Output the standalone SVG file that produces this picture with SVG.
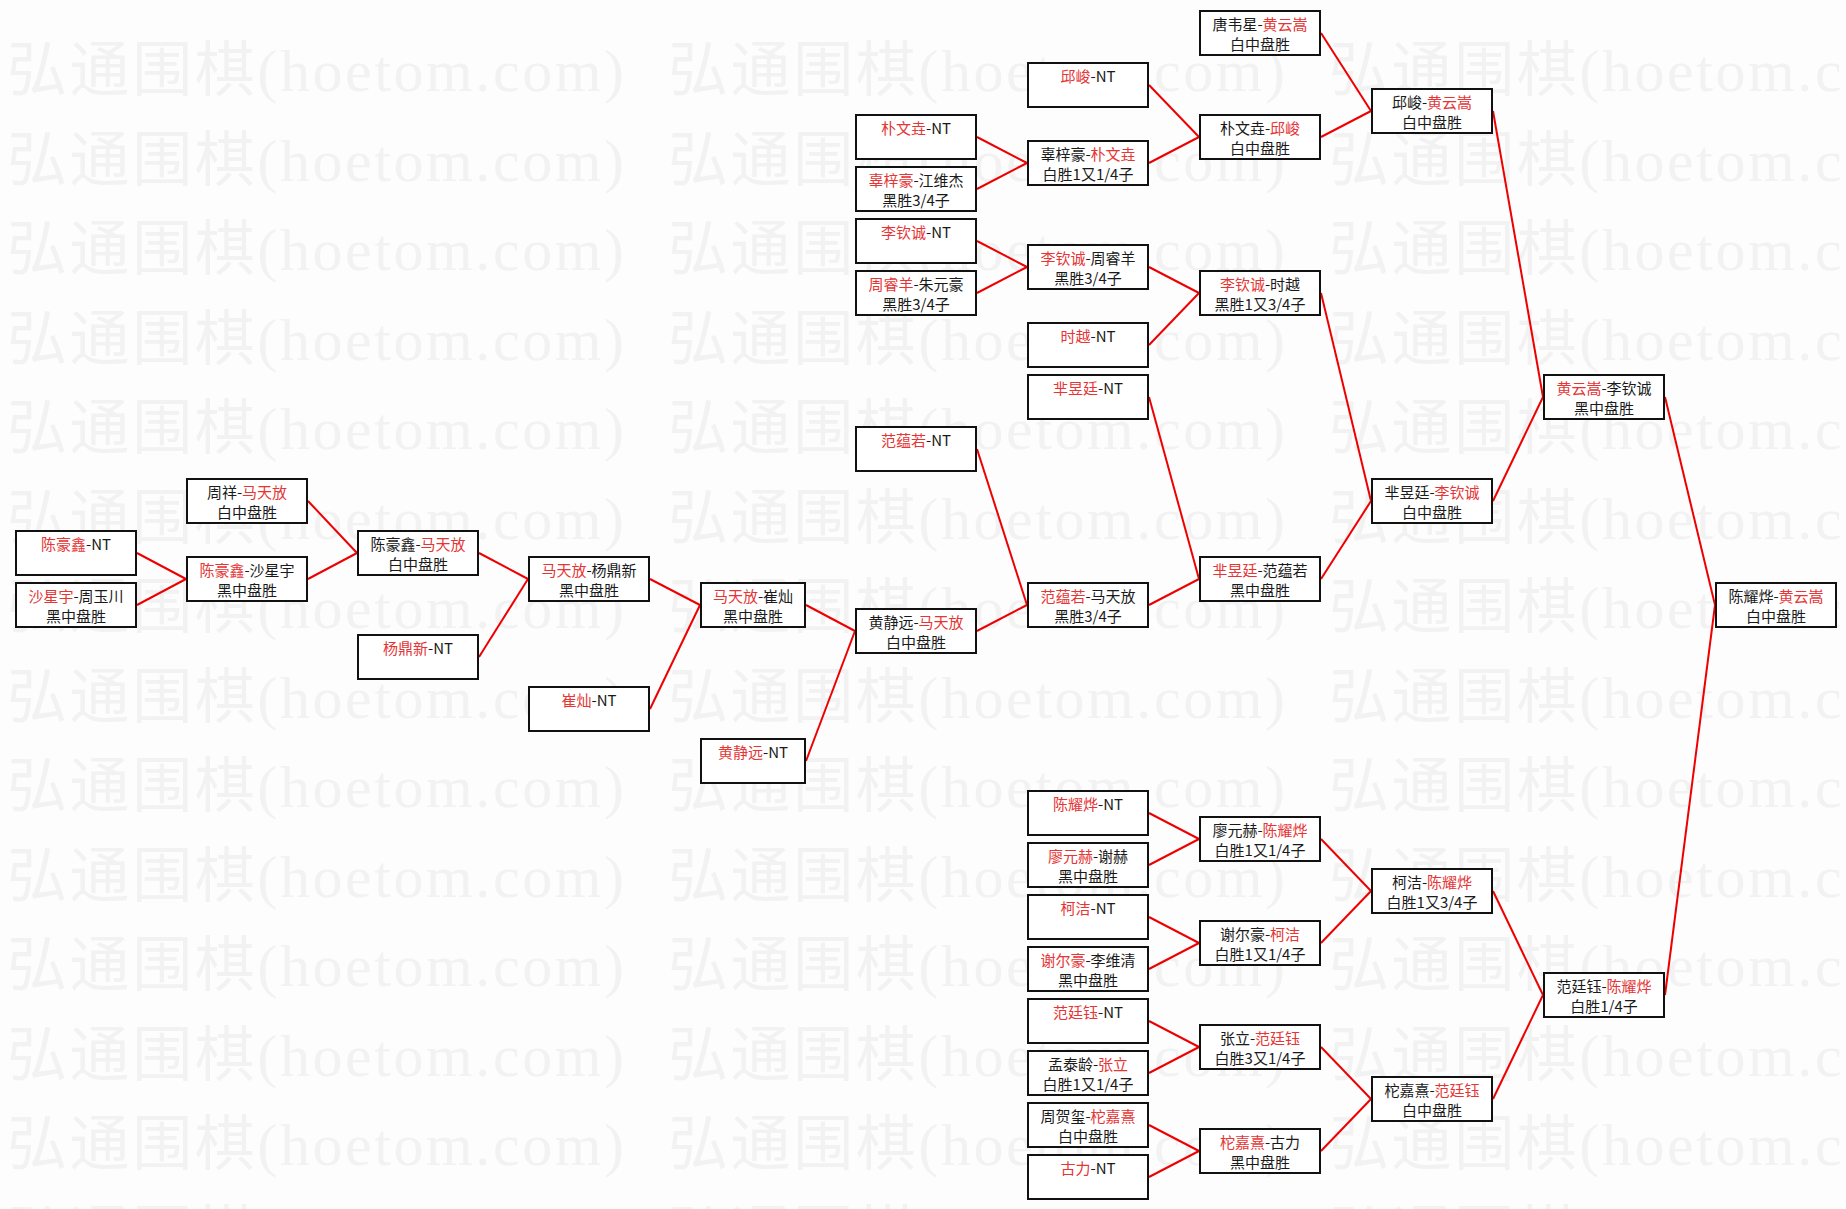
<svg xmlns="http://www.w3.org/2000/svg" xmlns:xlink="http://www.w3.org/1999/xlink" width="1846" height="1209" viewBox="0 0 1846 1209">
<style>
.bg{fill:#fdfdfd}
.wm{font-family:"Liberation Serif","Noto Sans CJK SC",serif;font-size:60px;fill:#f2f2f2}
.nd rect{fill:#fff;stroke:#111;stroke-width:2}
.nd text{font-family:"Noto Sans CJK SC","Liberation Sans",sans-serif;font-size:15px;fill:#1a1a1a;text-anchor:middle}
.nd .r{fill:#e53535}
#connectors line{stroke:#ee0000;stroke-width:2;fill:none}
</style>
<defs>
<text id="wmt" class="wm" x="0" y="0" textLength="617" lengthAdjust="spacing">弘通围棋(hoetom.com)</text>
</defs>
<rect class="bg" x="0" y="0" width="1846" height="1209"/>
<g id="watermark">
<use xlink:href="#wmt" x="7" y="91"/><use xlink:href="#wmt" x="668" y="91"/><use xlink:href="#wmt" x="1329" y="91"/>
<use xlink:href="#wmt" x="7" y="180.5"/><use xlink:href="#wmt" x="668" y="180.5"/><use xlink:href="#wmt" x="1329" y="180.5"/>
<use xlink:href="#wmt" x="7" y="270"/><use xlink:href="#wmt" x="668" y="270"/><use xlink:href="#wmt" x="1329" y="270"/>
<use xlink:href="#wmt" x="7" y="359.5"/><use xlink:href="#wmt" x="668" y="359.5"/><use xlink:href="#wmt" x="1329" y="359.5"/>
<use xlink:href="#wmt" x="7" y="449"/><use xlink:href="#wmt" x="668" y="449"/><use xlink:href="#wmt" x="1329" y="449"/>
<use xlink:href="#wmt" x="7" y="538.5"/><use xlink:href="#wmt" x="668" y="538.5"/><use xlink:href="#wmt" x="1329" y="538.5"/>
<use xlink:href="#wmt" x="7" y="628"/><use xlink:href="#wmt" x="668" y="628"/><use xlink:href="#wmt" x="1329" y="628"/>
<use xlink:href="#wmt" x="7" y="717.5"/><use xlink:href="#wmt" x="668" y="717.5"/><use xlink:href="#wmt" x="1329" y="717.5"/>
<use xlink:href="#wmt" x="7" y="807"/><use xlink:href="#wmt" x="668" y="807"/><use xlink:href="#wmt" x="1329" y="807"/>
<use xlink:href="#wmt" x="7" y="896.5"/><use xlink:href="#wmt" x="668" y="896.5"/><use xlink:href="#wmt" x="1329" y="896.5"/>
<use xlink:href="#wmt" x="7" y="986"/><use xlink:href="#wmt" x="668" y="986"/><use xlink:href="#wmt" x="1329" y="986"/>
<use xlink:href="#wmt" x="7" y="1075.5"/><use xlink:href="#wmt" x="668" y="1075.5"/><use xlink:href="#wmt" x="1329" y="1075.5"/>
<use xlink:href="#wmt" x="7" y="1165"/><use xlink:href="#wmt" x="668" y="1165"/><use xlink:href="#wmt" x="1329" y="1165"/>
<use xlink:href="#wmt" x="7" y="1254.5"/><use xlink:href="#wmt" x="668" y="1254.5"/><use xlink:href="#wmt" x="1329" y="1254.5"/>
</g>
<g id="connectors">
<line x1="137" y1="553" x2="186" y2="579"/>
<line x1="137" y1="605" x2="186" y2="579"/>
<line x1="308" y1="501" x2="357" y2="553"/>
<line x1="308" y1="579" x2="357" y2="553"/>
<line x1="479" y1="553" x2="528" y2="579"/>
<line x1="479" y1="657" x2="528" y2="579"/>
<line x1="650" y1="579" x2="700" y2="605"/>
<line x1="650" y1="709" x2="700" y2="605"/>
<line x1="806" y1="605" x2="855" y2="631"/>
<line x1="806" y1="761" x2="855" y2="631"/>
<line x1="977" y1="449" x2="1027" y2="605"/>
<line x1="977" y1="631" x2="1027" y2="605"/>
<line x1="1149" y1="397" x2="1199" y2="579"/>
<line x1="1149" y1="605" x2="1199" y2="579"/>
<line x1="1321" y1="293" x2="1371" y2="501"/>
<line x1="1321" y1="579" x2="1371" y2="501"/>
<line x1="1149" y1="267" x2="1199" y2="293"/>
<line x1="1149" y1="345" x2="1199" y2="293"/>
<line x1="977" y1="241" x2="1027" y2="267"/>
<line x1="977" y1="293" x2="1027" y2="267"/>
<line x1="977" y1="137" x2="1027" y2="163"/>
<line x1="977" y1="189" x2="1027" y2="163"/>
<line x1="1149" y1="85" x2="1199" y2="137"/>
<line x1="1149" y1="163" x2="1199" y2="137"/>
<line x1="1321" y1="33" x2="1371" y2="111"/>
<line x1="1321" y1="137" x2="1371" y2="111"/>
<line x1="1493" y1="111" x2="1543" y2="397"/>
<line x1="1493" y1="501" x2="1543" y2="397"/>
<line x1="1665" y1="397" x2="1715" y2="605"/>
<line x1="1665" y1="995" x2="1715" y2="605"/>
<line x1="1149" y1="813" x2="1199" y2="839"/>
<line x1="1149" y1="865" x2="1199" y2="839"/>
<line x1="1149" y1="917" x2="1199" y2="943"/>
<line x1="1149" y1="969" x2="1199" y2="943"/>
<line x1="1149" y1="1021" x2="1199" y2="1047"/>
<line x1="1149" y1="1073" x2="1199" y2="1047"/>
<line x1="1149" y1="1125" x2="1199" y2="1151"/>
<line x1="1149" y1="1177" x2="1199" y2="1151"/>
<line x1="1321" y1="839" x2="1371" y2="891"/>
<line x1="1321" y1="943" x2="1371" y2="891"/>
<line x1="1321" y1="1047" x2="1371" y2="1099"/>
<line x1="1321" y1="1151" x2="1371" y2="1099"/>
<line x1="1493" y1="891" x2="1543" y2="995"/>
<line x1="1493" y1="1099" x2="1543" y2="995"/>
</g>
<g id="nodes">
<!-- column 0 -->
<g id="n-chenhaoxin-nt" class="nd"><rect x="16" y="531" width="120" height="44"/><text x="76" y="550"><tspan class="r">陈豪鑫</tspan>-NT</text></g>
<g id="n-shaxingyu-zhouyuchuan" class="nd"><rect x="16" y="583" width="120" height="44"/><text x="76" y="602"><tspan class="r">沙星宇</tspan>-周玉川</text><text x="76" y="622">黑中盘胜</text></g>
<!-- column 1 -->
<g id="n-zhouxiang-matianfang" class="nd"><rect x="187" y="479" width="120" height="44"/><text x="247" y="498">周祥-<tspan class="r">马天放</tspan></text><text x="247" y="518">白中盘胜</text></g>
<g id="n-chenhaoxin-shaxingyu" class="nd"><rect x="187" y="557" width="120" height="44"/><text x="247" y="576"><tspan class="r">陈豪鑫</tspan>-沙星宇</text><text x="247" y="596">黑中盘胜</text></g>
<!-- column 2 -->
<g id="n-chenhaoxin-matianfang" class="nd"><rect x="358" y="531" width="120" height="44"/><text x="418" y="550">陈豪鑫-<tspan class="r">马天放</tspan></text><text x="418" y="570">白中盘胜</text></g>
<g id="n-yangdingxin-nt" class="nd"><rect x="358" y="635" width="120" height="44"/><text x="418" y="654"><tspan class="r">杨鼎新</tspan>-NT</text></g>
<!-- column 3 -->
<g id="n-matianfang-yangdingxin" class="nd"><rect x="529" y="557" width="120" height="44"/><text x="589" y="576"><tspan class="r">马天放</tspan>-杨鼎新</text><text x="589" y="596">黑中盘胜</text></g>
<g id="n-cuican-nt" class="nd"><rect x="529" y="687" width="120" height="44"/><text x="589" y="706"><tspan class="r">崔灿</tspan>-NT</text></g>
<!-- column 4 -->
<g id="n-matianfang-cuican" class="nd"><rect x="701" y="583" width="104" height="44"/><text x="753" y="602"><tspan class="r">马天放</tspan>-崔灿</text><text x="753" y="622">黑中盘胜</text></g>
<g id="n-huangjingyuan-nt" class="nd"><rect x="701" y="739" width="104" height="44"/><text x="753" y="758"><tspan class="r">黄静远</tspan>-NT</text></g>
<!-- column 5 -->
<g id="n-piaowenyao-nt" class="nd"><rect x="856" y="115" width="120" height="44"/><text x="916" y="134"><tspan class="r">朴文垚</tspan>-NT</text></g>
<g id="n-guzihao-jiangweijie" class="nd"><rect x="856" y="167" width="120" height="44"/><text x="916" y="186"><tspan class="r">辜梓豪</tspan>-江维杰</text><text x="916" y="206">黑胜3/4子</text></g>
<g id="n-liqincheng-nt" class="nd"><rect x="856" y="219" width="120" height="44"/><text x="916" y="238"><tspan class="r">李钦诚</tspan>-NT</text></g>
<g id="n-zhouruiyang-zhuyuanhao" class="nd"><rect x="856" y="271" width="120" height="44"/><text x="916" y="290"><tspan class="r">周睿羊</tspan>-朱元豪</text><text x="916" y="310">黑胜3/4子</text></g>
<g id="n-fanyunruo-nt" class="nd"><rect x="856" y="427" width="120" height="44"/><text x="916" y="446"><tspan class="r">范蕴若</tspan>-NT</text></g>
<g id="n-huangjingyuan-matianfang" class="nd"><rect x="856" y="609" width="120" height="44"/><text x="916" y="628">黄静远-<tspan class="r">马天放</tspan></text><text x="916" y="648">白中盘胜</text></g>
<!-- column 6 -->
<g id="n-qiujun-nt" class="nd"><rect x="1028" y="63" width="120" height="44"/><text x="1088" y="82"><tspan class="r">邱峻</tspan>-NT</text></g>
<g id="n-guzihao-piaowenyao" class="nd"><rect x="1028" y="141" width="120" height="44"/><text x="1088" y="160">辜梓豪-<tspan class="r">朴文垚</tspan></text><text x="1088" y="180">白胜1又1/4子</text></g>
<g id="n-liqincheng-zhouruiyang" class="nd"><rect x="1028" y="245" width="120" height="44"/><text x="1088" y="264"><tspan class="r">李钦诚</tspan>-周睿羊</text><text x="1088" y="284">黑胜3/4子</text></g>
<g id="n-shiyue-nt" class="nd"><rect x="1028" y="323" width="120" height="44"/><text x="1088" y="342"><tspan class="r">时越</tspan>-NT</text></g>
<g id="n-miyuting-nt" class="nd"><rect x="1028" y="375" width="120" height="44"/><text x="1088" y="394"><tspan class="r">芈昱廷</tspan>-NT</text></g>
<g id="n-fanyunruo-matianfang" class="nd"><rect x="1028" y="583" width="120" height="44"/><text x="1088" y="602"><tspan class="r">范蕴若</tspan>-马天放</text><text x="1088" y="622">黑胜3/4子</text></g>
<g id="n-chenyaoye-nt" class="nd"><rect x="1028" y="791" width="120" height="44"/><text x="1088" y="810"><tspan class="r">陈耀烨</tspan>-NT</text></g>
<g id="n-liaoyuanhe-xiehe" class="nd"><rect x="1028" y="843" width="120" height="44"/><text x="1088" y="862"><tspan class="r">廖元赫</tspan>-谢赫</text><text x="1088" y="882">黑中盘胜</text></g>
<g id="n-kejie-nt" class="nd"><rect x="1028" y="895" width="120" height="44"/><text x="1088" y="914"><tspan class="r">柯洁</tspan>-NT</text></g>
<g id="n-xieerhao-liweiqing" class="nd"><rect x="1028" y="947" width="120" height="44"/><text x="1088" y="966"><tspan class="r">谢尔豪</tspan>-李维清</text><text x="1088" y="986">黑中盘胜</text></g>
<g id="n-fantingyu-nt" class="nd"><rect x="1028" y="999" width="120" height="44"/><text x="1088" y="1018"><tspan class="r">范廷钰</tspan>-NT</text></g>
<g id="n-mengtailing-zhangli" class="nd"><rect x="1028" y="1051" width="120" height="44"/><text x="1088" y="1070">孟泰龄-<tspan class="r">张立</tspan></text><text x="1088" y="1090">白胜1又1/4子</text></g>
<g id="n-zhouhexi-tuojiaxi" class="nd"><rect x="1028" y="1103" width="120" height="44"/><text x="1088" y="1122">周贺玺-<tspan class="r">柁嘉熹</tspan></text><text x="1088" y="1142">白中盘胜</text></g>
<g id="n-guli-nt" class="nd"><rect x="1028" y="1155" width="120" height="44"/><text x="1088" y="1174"><tspan class="r">古力</tspan>-NT</text></g>
<!-- column 7 -->
<g id="n-tangweixing-huangyunsong" class="nd"><rect x="1200" y="11" width="120" height="44"/><text x="1260" y="30">唐韦星-<tspan class="r">黄云嵩</tspan></text><text x="1260" y="50">白中盘胜</text></g>
<g id="n-piaowenyao-qiujun" class="nd"><rect x="1200" y="115" width="120" height="44"/><text x="1260" y="134">朴文垚-<tspan class="r">邱峻</tspan></text><text x="1260" y="154">白中盘胜</text></g>
<g id="n-liqincheng-shiyue" class="nd"><rect x="1200" y="271" width="120" height="44"/><text x="1260" y="290"><tspan class="r">李钦诚</tspan>-时越</text><text x="1260" y="310">黑胜1又3/4子</text></g>
<g id="n-miyuting-fanyunruo" class="nd"><rect x="1200" y="557" width="120" height="44"/><text x="1260" y="576"><tspan class="r">芈昱廷</tspan>-范蕴若</text><text x="1260" y="596">黑中盘胜</text></g>
<g id="n-liaoyuanhe-chenyaoye" class="nd"><rect x="1200" y="817" width="120" height="44"/><text x="1260" y="836">廖元赫-<tspan class="r">陈耀烨</tspan></text><text x="1260" y="856">白胜1又1/4子</text></g>
<g id="n-xieerhao-kejie" class="nd"><rect x="1200" y="921" width="120" height="44"/><text x="1260" y="940">谢尔豪-<tspan class="r">柯洁</tspan></text><text x="1260" y="960">白胜1又1/4子</text></g>
<g id="n-zhangli-fantingyu" class="nd"><rect x="1200" y="1025" width="120" height="44"/><text x="1260" y="1044">张立-<tspan class="r">范廷钰</tspan></text><text x="1260" y="1064">白胜3又1/4子</text></g>
<g id="n-tuojiaxi-guli" class="nd"><rect x="1200" y="1129" width="120" height="44"/><text x="1260" y="1148"><tspan class="r">柁嘉熹</tspan>-古力</text><text x="1260" y="1168">黑中盘胜</text></g>
<!-- column 8 -->
<g id="n-qiujun-huangyunsong" class="nd"><rect x="1372" y="89" width="120" height="44"/><text x="1432" y="108">邱峻-<tspan class="r">黄云嵩</tspan></text><text x="1432" y="128">白中盘胜</text></g>
<g id="n-miyuting-liqincheng" class="nd"><rect x="1372" y="479" width="120" height="44"/><text x="1432" y="498">芈昱廷-<tspan class="r">李钦诚</tspan></text><text x="1432" y="518">白中盘胜</text></g>
<g id="n-kejie-chenyaoye" class="nd"><rect x="1372" y="869" width="120" height="44"/><text x="1432" y="888">柯洁-<tspan class="r">陈耀烨</tspan></text><text x="1432" y="908">白胜1又3/4子</text></g>
<g id="n-tuojiaxi-fantingyu" class="nd"><rect x="1372" y="1077" width="120" height="44"/><text x="1432" y="1096">柁嘉熹-<tspan class="r">范廷钰</tspan></text><text x="1432" y="1116">白中盘胜</text></g>
<!-- column 9 -->
<g id="n-huangyunsong-liqincheng" class="nd"><rect x="1544" y="375" width="120" height="44"/><text x="1604" y="394"><tspan class="r">黄云嵩</tspan>-李钦诚</text><text x="1604" y="414">黑中盘胜</text></g>
<g id="n-fantingyu-chenyaoye" class="nd"><rect x="1544" y="973" width="120" height="44"/><text x="1604" y="992">范廷钰-<tspan class="r">陈耀烨</tspan></text><text x="1604" y="1012">白胜1/4子</text></g>
<!-- column 10 -->
<g id="n-chenyaoye-huangyunsong" class="nd"><rect x="1716" y="583" width="120" height="44"/><text x="1776" y="602">陈耀烨-<tspan class="r">黄云嵩</tspan></text><text x="1776" y="622">白中盘胜</text></g>
</g>
</svg>
